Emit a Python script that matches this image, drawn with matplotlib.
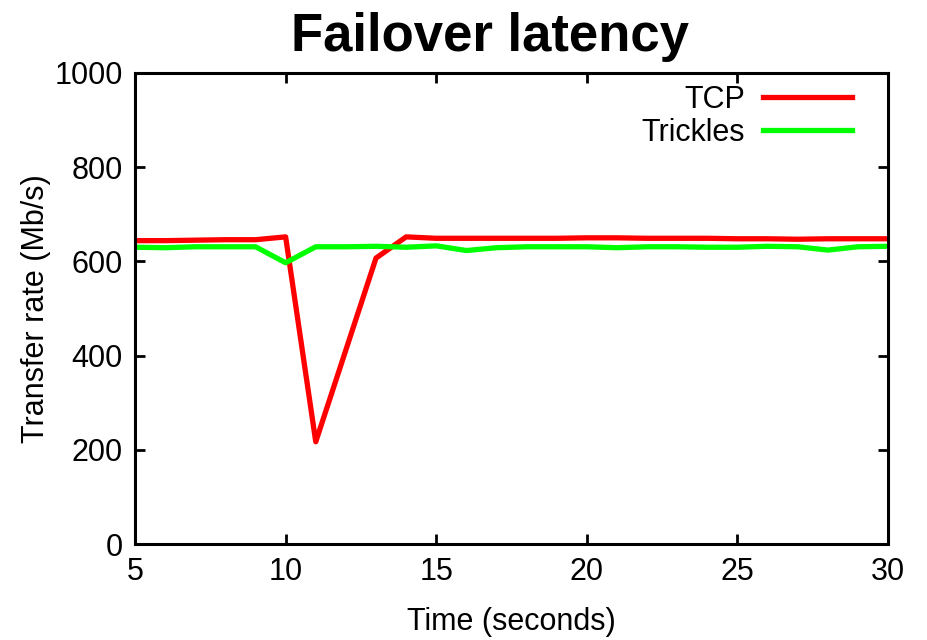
import matplotlib
matplotlib.use('Agg')
import matplotlib.pyplot as plt

seconds = list(range(5, 31))
tcp = [644, 644, 645, 646, 646, 652, 217, 412, 607, 652, 649, 649, 649, 649, 649,
       650, 650, 649, 649, 649, 648, 648, 647, 648, 648, 648]
trickles = [630, 629, 631, 631, 631, 597, 631, 631, 632, 630, 633, 623, 629, 631, 631,
            631, 629, 631, 631, 630, 630, 632, 631, 624, 631, 632]
xticks = [5, 10, 15, 20, 25, 30]
yticks = [0, 200, 400, 600, 800, 1000]

plt.rcParams['font.family'] = ['Liberation Sans', 'DejaVu Sans']

fig = plt.figure(figsize=(9.28, 6.4), dpi=100)
ax = fig.add_axes([0.1455, 0.15, 0.8115, 0.736])
ax.plot(seconds, tcp, color='#ff0000', lw=3.8, label='TCP')
ax.plot(seconds, trickles, color='#00ff00', lw=3.8, label='Trickles')

ax.set_xlim(5, 30)
ax.set_ylim(0, 1000)
ax.set_xticks(xticks)
ax.set_yticks(yticks)
ax.tick_params(direction='in', length=7, width=2, labelsize=22, pad=9,
               top=True, right=True)
for s in ax.spines.values():
    s.set_linewidth(2.2)

ax.set_xlabel('Time (seconds)', fontsize=22, labelpad=15)
ax.set_ylabel('Transfer rate (Mb/s)', fontsize=22, labelpad=2)
ax.set_title('Failover latency', fontsize=38, fontweight='bold', pad=16, x=0.472)

ax.legend(loc='upper right', frameon=False, markerfirst=False, fontsize=22,
          handlelength=2.9, handletextpad=0.6, labelspacing=0.1,
          borderaxespad=0.3, bbox_to_anchor=(0.98, 1.02))

fig.savefig('out.png', dpi=100)
